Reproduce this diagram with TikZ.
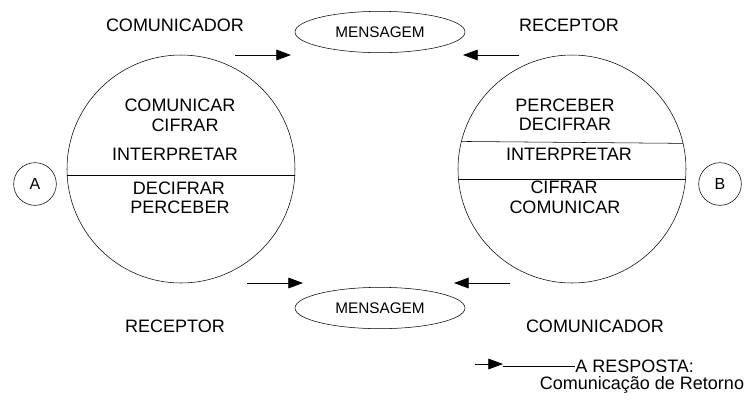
\documentclass[tikz,border=0pt]{standalone}
\usepackage{fontspec}
\setmainfont{Liberation Sans}
\usetikzlibrary{arrows.meta, shapes.geometric}

\begin{document}
\begin{tikzpicture}[x=0.75pt, y=-0.75pt, >={Triangle[length=11pt, width=8pt]}]
		\tikzstyle{txt} = [draw=none, inner sep=0pt, font=\fontsize{13.5}{16}\selectfont]
		\tikzstyle{big} = [draw, circle, minimum size=171pt, inner sep=0pt, outer sep=0pt]
		\tikzstyle{person} = [draw, circle, minimum size=32pt, inner sep=0pt, font=\fontsize{12}{14}\selectfont]
		\tikzstyle{msg} = [draw, ellipse, minimum width=127.5pt, minimum height=31pt, inner sep=0pt, font=\fontsize{11.5}{14}\selectfont]
		\tikzstyle{arrow} = [semithick, ->]
		
		\useasboundingbox (0, 0) rectangle (744, 405);
		
		% interlocutores
		\node[big] 		at (181, 169) 	(lc) 	{};
		\node[big] 		at (572, 169) 	(rc) 	{};
		\node[person] 	at (35, 184) 	(pa) 	{A};
		\node[person] 	at (720, 184) 	(pb) 	{B};
		
		\draw (lc.183.5) -- (lc.-3.5);
		\draw (rc.166.7) -- (rc.13.3);
		\draw (rc.185.6) -- (rc.-5.6);
		
		% mensagens
		\node[msg] 		at (380, 32) 	(m1) 	{MENSAGEM};
		\node[msg] 		at (380, 308) 	(m2) 	{MENSAGEM};
		
		% papeis
		\node[txt] 		at (175, 25) 	(comA) 	{COMUNICADOR};
		\node[txt] 		at (569, 25) 	(recB) 	{RECEPTOR};
		\node[txt] 		at (175, 326) 	(recA) 	{RECEPTOR};
		\node[txt] 		at (595, 326) 	(comB) 	{COMUNICADOR};
		
		% dentro de A
		\node[txt] 		at (180, 105) 	(a1) 	{COMUNICAR};
		\node[txt] 		at (185, 125) 	(a2) 	{CIFRAR};
		\node[txt] 		at (175, 154) 	(a3) 	{INTERPRETAR};
		\node[txt] 		at (179, 188) 	(a4) 	{DECIFRAR};
		\node[txt] 		at (180, 207) 	(a5) 	{PERCEBER};
		
		% dentro de B
		\node[txt] 		at (565, 105) 	(b1) 	{PERCEBER};
		\node[txt] 		at (565, 124) 	(b2) 	{DECIFRAR};
		\node[txt] 		at (569, 154) 	(b3) 	{INTERPRETAR};
		\node[txt] 		at (564, 187) 	(b4) 	{CIFRAR};
		\node[txt] 		at (565, 207) 	(b5) 	{COMUNICAR};
		
		% setas
		\coordinate (s1) at (235, 55);
		\coordinate (e1) at (291, 55);
		\coordinate (s2) at (519, 55);
		\coordinate (e2) at (463, 55);
		\coordinate (s3) at (247, 283);
		\coordinate (e3) at (303, 283);
		\coordinate (s4) at (510, 283);
		\coordinate (e4) at (454, 283);
		
		\draw[arrow] (s1) -- (e1);
		\draw[arrow] (s2) -- (e2);
		\draw[arrow] (s3) -- (e3);
		\draw[arrow] (s4) -- (e4);
		
		% legenda
		\node[txt, anchor=west] 	at (575, 366) 	(resp) 	{A RESPOSTA:};
		\node[txt] 					at (642, 385) 	(ret) 	{Comunicação de Retorno};
		\coordinate (ls) at (475, 364);
		\coordinate (le) at (503, 364);
		\coordinate (lm) at (503, 366);
		\draw[arrow] (ls) -- (le);
		\draw (lm) -- (resp.west);
	\end{tikzpicture}
\end{document}
